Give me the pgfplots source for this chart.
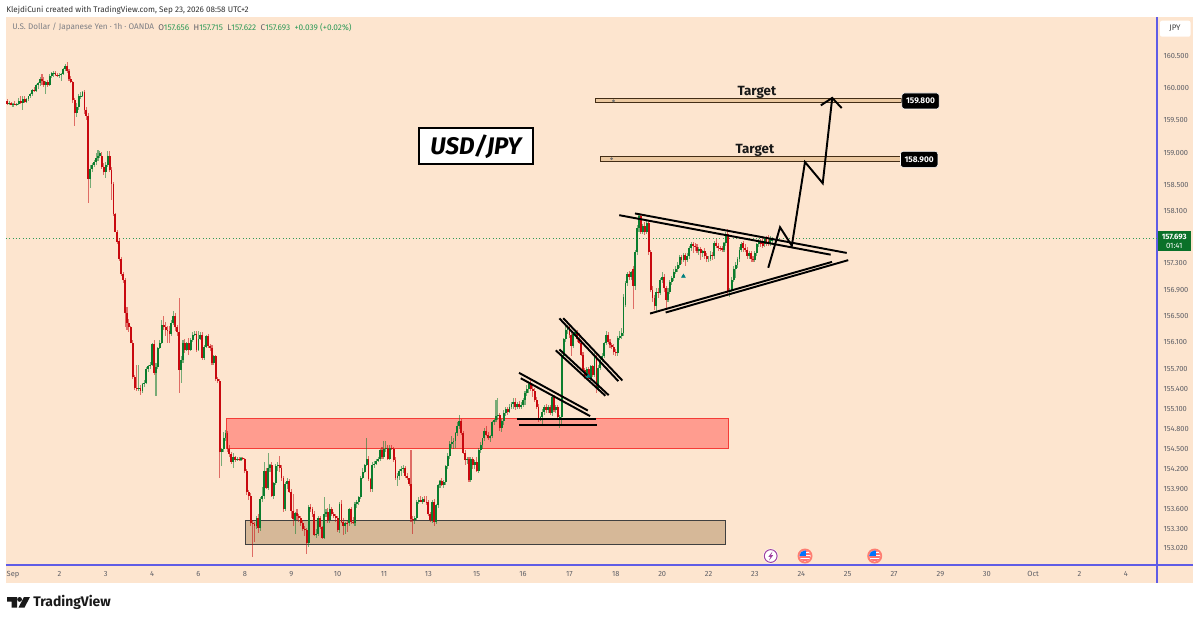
\documentclass[border=0pt]{standalone}
\usepackage{pgfplots}
\usepackage{pgfplotstable}
\usepackage{fontspec}
\setmainfont{Fira Sans}
\pgfplotsset{compat=1.18}
\definecolor{bg}{HTML}{FDE5CF}
\definecolor{upb}{HTML}{0B7D2E}
\definecolor{dnb}{HTML}{C8090F}
\definecolor{axb}{HTML}{5F5CE6}
\definecolor{tl}{HTML}{5E5F66}
\definecolor{grn}{HTML}{2E9A58}
\pgfplotstableread{
i o h l c
-3 159.80 159.84 159.74 159.76
-2 159.76 159.80 159.74 159.77
-1 159.77 159.79 159.73 159.75
0 159.75 159.78 159.72 159.76
1 159.76 159.80 159.74 159.75
2 159.75 159.78 159.73 159.76
3 159.76 159.86 159.74 159.80
4 159.80 159.87 159.76 159.77
5 159.77 159.87 159.68 159.83
6 159.83 159.87 159.77 159.79
7 159.79 159.85 159.78 159.83
8 159.83 159.88 159.81 159.87
9 159.87 159.93 159.86 159.92
10 159.92 160.00 159.90 159.98
11 159.98 160.02 159.95 159.96
12 159.96 160.07 159.94 160.05
13 160.05 160.10 160.00 160.08
14 160.08 160.17 160.04 160.14
15 160.14 160.22 160.06 160.12
16 160.12 160.17 160.02 160.05
17 160.05 160.12 159.91 160.10
18 160.10 160.13 160.03 160.05
19 160.05 160.22 160.04 160.19
20 160.19 160.26 160.16 160.23
21 160.23 160.27 160.18 160.25
22 160.25 160.27 160.19 160.21
23 160.21 160.24 160.17 160.19
24 160.19 160.23 160.16 160.20
25 160.20 160.24 160.12 160.22
26 160.22 160.32 160.20 160.30
27 160.30 160.39 160.28 160.36
28 160.36 160.42 160.25 160.28
29 160.28 160.30 160.12 160.15
30 160.15 160.19 160.08 160.10
31 160.10 160.12 159.78 159.82
32 159.82 159.86 159.42 159.62
33 159.62 159.78 159.55 159.72
34 159.72 159.92 159.68 159.88
35 159.88 159.94 159.84 159.90
36 159.90 159.97 159.87 159.94
37 159.94 159.98 159.60 159.66
38 159.66 159.72 159.52 159.58
39 159.58 159.62 158.23 158.60
40 158.60 158.82 158.45 158.76
41 158.76 158.85 158.70 158.82
42 158.82 158.90 158.78 158.86
43 158.86 159.00 158.82 158.92
44 158.92 159.05 158.88 158.96
45 158.96 159.03 158.92 159.00
46 158.96 159.02 158.76 158.80
47 158.80 158.85 158.66 158.70
48 158.70 158.86 158.62 158.82
49 158.82 159.03 158.78 158.96
50 158.96 159.03 158.70 158.74
51 158.74 158.78 158.28 158.53
52 158.53 158.56 158.03 158.06
53 158.06 158.08 157.78 157.80
54 157.80 157.82 157.60 157.64
55 157.66 157.70 157.34 157.37
56 157.37 157.40 157.12 157.14
57 157.14 157.18 157.00 157.06
58 157.06 157.08 156.34 156.56
59 156.56 156.64 156.30 156.40
60 156.40 156.46 156.26 156.33
61 156.33 156.36 156.10 156.10
62 156.10 156.14 155.55 155.58
63 155.58 155.62 155.39 155.42
64 155.42 155.78 155.38 155.40
65 155.40 155.76 155.38 155.42
66 155.42 155.46 155.31 155.38
67 155.38 155.50 155.35 155.48
68 155.48 155.54 155.44 155.50
69 155.50 155.74 155.48 155.70
70 155.70 155.78 155.66 155.75
71 155.75 155.82 155.70 155.78
72 155.78 156.10 155.76 156.08
73 156.08 156.14 155.62 155.65
74 155.65 155.80 155.30 155.74
75 155.74 156.04 155.70 156.02
76 156.02 156.14 156.00 156.10
77 156.10 156.44 156.08 156.37
78 156.37 156.50 156.30 156.33
79 156.33 156.42 156.20 156.30
80 156.30 156.36 156.10 156.28
81 156.28 156.36 156.10 156.24
82 156.24 156.44 156.20 156.40
83 156.40 156.58 156.38 156.50
84 156.50 156.56 156.28 156.33
85 156.33 156.38 156.20 156.26
86 156.26 156.78 155.35 155.68
87 155.68 155.90 155.50 155.84
88 155.84 156.14 155.80 156.10
89 156.10 156.16 155.95 155.99
90 155.99 156.12 155.98 156.10
91 156.10 156.18 155.92 155.99
92 155.99 156.18 155.97 156.14
93 156.14 156.26 156.12 156.22
94 156.22 156.28 156.20 156.24
95 156.24 156.28 155.96 155.99
96 155.99 156.28 155.97 156.16
97 156.16 156.26 156.14 156.22
98 156.22 156.26 155.84 155.87
99 155.87 156.06 155.85 156.04
100 156.04 156.22 156.02 156.20
101 156.20 156.24 156.02 156.05
102 156.05 156.08 155.98 156.03
103 156.03 156.06 155.78 155.80
104 155.80 155.92 155.78 155.90
105 155.90 155.92 155.52 155.55
106 155.55 155.58 155.50 155.52
107 155.52 155.55 154.07 154.46
108 154.46 154.52 154.24 154.50
109 154.50 154.76 154.46 154.68
110 154.68 154.79 154.62 154.74
111 154.74 154.78 154.46 154.50
112 154.50 154.55 154.38 154.42
113 154.42 154.46 154.27 154.30
114 154.30 154.44 154.22 154.38
115 154.38 154.40 154.30 154.34
116 154.34 154.38 154.32 154.36
117 154.36 154.38 154.32 154.34
118 154.34 154.38 154.33 154.37
119 154.37 154.39 154.33 154.35
120 154.35 154.37 154.15 154.18
121 154.18 154.20 153.82 153.85
122 153.85 153.88 153.74 153.80
123 153.80 153.84 153.36 153.40
124 153.40 153.44 152.88 153.38
125 153.38 153.42 153.12 153.35
126 153.35 153.50 153.30 153.46
127 153.46 153.52 153.25 153.32
128 153.32 153.78 153.28 153.75
129 153.75 153.93 153.70 153.80
130 153.80 154.31 153.76 154.17
131 154.17 154.22 153.90 153.92
132 153.92 154.44 153.88 154.22
133 154.22 154.28 154.16 154.26
134 154.26 154.30 153.78 153.80
135 153.80 154.00 153.76 153.99
136 153.99 154.27 153.96 154.24
137 154.24 154.30 154.18 154.26
138 154.26 154.40 154.16 154.22
139 154.22 154.26 154.02 154.06
140 154.06 154.10 153.56 153.60
141 153.60 154.00 153.58 153.98
142 153.98 154.06 153.90 154.02
143 154.02 154.05 153.84 153.86
144 153.86 153.90 153.46 153.58
145 153.58 153.83 153.36 153.45
146 153.44 153.56 153.23 153.55
147 153.55 153.60 153.44 153.50
148 153.50 153.54 153.42 153.46
149 153.46 153.50 153.36 153.40
150 153.40 153.44 153.28 153.31
151 153.31 153.36 153.20 153.29
152 153.29 153.32 152.94 153.09
153 153.09 153.66 153.04 153.63
154 153.63 153.68 153.56 153.60
155 153.60 153.64 153.48 153.54
156 153.54 153.58 153.20 153.22
157 153.22 153.30 153.18 153.24
158 153.24 153.50 153.20 153.46
159 153.46 153.50 153.30 153.33
160 153.33 153.36 153.16 153.18
161 153.18 153.78 153.15 153.52
162 153.52 153.60 153.48 153.56
163 153.56 153.62 153.40 153.44
164 153.44 153.68 153.40 153.60
165 153.60 153.64 153.50 153.52
166 153.52 153.56 153.46 153.50
167 153.50 153.54 153.42 153.46
168 153.46 153.50 153.26 153.29
169 153.29 153.70 153.25 153.69
170 153.69 153.74 153.40 153.41
171 153.41 153.46 153.22 153.36
172 153.36 153.42 153.24 153.40
173 153.40 153.43 153.26 153.39
174 153.39 153.62 153.35 153.60
175 153.60 153.64 153.38 153.42
176 153.42 153.48 153.38 153.40
177 153.40 153.72 153.34 153.69
178 153.69 153.74 153.62 153.70
179 153.70 153.80 153.66 153.78
180 153.78 154.09 153.76 154.07
181 154.07 154.22 154.05 154.16
182 154.16 154.28 154.14 154.26
183 154.26 154.68 154.24 154.35
184 154.35 154.40 154.02 154.05
185 154.05 154.08 153.86 153.90
186 153.90 154.30 153.86 154.26
187 154.26 154.32 154.22 154.29
188 154.29 154.36 154.26 154.32
189 154.32 154.38 154.30 154.36
190 154.36 154.50 154.32 154.48
191 154.48 154.54 154.36 154.38
192 154.38 154.62 154.36 154.50
193 154.50 154.62 154.46 154.52
194 154.52 154.56 154.33 154.36
195 154.36 154.55 154.34 154.52
196 154.52 154.56 154.48 154.50
197 154.50 154.53 154.30 154.34
198 154.34 154.38 154.04 154.06
199 154.06 154.14 153.94 154.10
200 154.10 154.20 154.04 154.18
201 154.18 154.24 154.10 154.20
202 154.20 154.26 154.14 154.22
203 154.22 154.24 154.08 154.10
204 154.10 154.14 154.04 154.06
205 154.06 154.08 153.94 153.98
206 153.98 154.48 153.42 153.45
207 153.45 153.50 153.24 153.44
208 153.44 153.50 153.38 153.47
209 153.47 153.74 153.44 153.72
210 153.72 153.78 153.68 153.74
211 153.74 153.80 153.70 153.72
212 153.72 153.78 153.68 153.75
213 153.75 153.80 153.70 153.72
214 153.72 153.80 153.66 153.70
215 153.70 153.74 153.50 153.52
216 153.52 153.56 153.42 153.44
217 153.44 153.74 153.40 153.70
218 153.72 153.76 153.36 153.42
219 153.42 153.68 153.38 153.66
220 153.66 153.98 153.62 153.96
221 153.96 154.04 153.92 154.02
222 154.02 154.06 153.94 153.96
223 153.96 154.04 153.92 154.00
224 154.00 154.26 153.96 154.24
225 154.24 154.44 154.20 154.40
226 154.40 154.62 154.36 154.58
227 154.58 154.70 154.52 154.60
228 154.60 154.66 154.50 154.62
229 154.62 154.76 154.52 154.74
230 154.74 154.90 154.70 154.85
231 154.85 155.01 154.80 154.92
232 154.92 154.96 154.72 154.74
233 154.74 154.78 154.42 154.44
234 154.44 154.48 154.26 154.34
235 154.34 154.38 154.28 154.35
236 154.35 154.38 154.00 154.04
237 154.04 154.38 154.00 154.36
238 154.36 154.38 154.20 154.26
239 154.26 154.34 154.20 154.30
240 154.30 154.38 154.16 154.18
241 154.18 154.52 154.14 154.48
242 154.48 154.60 154.44 154.56
243 154.56 154.68 154.50 154.66
244 154.66 154.82 154.62 154.78
245 154.78 154.84 154.70 154.72
246 154.72 154.76 154.64 154.66
247 154.66 154.72 154.60 154.70
248 154.70 154.92 154.66 154.90
249 154.90 154.96 154.86 154.94
250 154.94 155.24 154.90 155.00
251 155.00 155.26 154.94 155.02
252 155.02 155.04 154.78 154.82
253 154.82 154.96 154.76 154.92
254 154.92 155.08 154.86 155.04
255 155.04 155.14 155.00 155.10
256 155.10 155.14 155.02 155.06
257 155.06 155.18 155.04 155.14
258 155.14 155.20 155.10 155.18
259 155.18 155.26 155.10 155.20
260 155.20 155.26 155.08 155.12
261 155.12 155.20 155.10 155.18
262 155.18 155.22 155.10 155.14
263 155.14 155.20 155.10 155.16
264 155.16 155.26 155.12 155.24
265 155.24 155.36 155.16 155.34
266 155.34 155.46 155.30 155.40
267 155.40 155.52 155.34 155.48
268 155.48 155.54 155.36 155.40
269 155.40 155.46 155.28 155.38
270 155.38 155.42 155.20 155.24
271 155.24 155.28 155.10 155.14
272 155.14 155.18 154.90 154.96
273 154.96 155.00 154.92 154.97
274 154.97 155.10 154.86 155.06
275 155.06 155.16 155.02 155.12
276 155.12 155.18 155.04 155.08
277 155.08 155.16 155.04 155.12
278 155.12 155.16 155.02 155.04
279 155.04 155.30 155.00 155.28
280 155.28 155.32 155.06 155.08
281 155.08 155.16 155.04 155.12
282 155.12 155.16 154.94 154.97
283 154.97 155.02 154.82 154.98
284 154.98 155.94 154.84 155.90
285 155.90 156.18 155.86 156.16
286 156.16 156.36 156.12 156.30
287 156.30 156.38 156.24 156.34
288 156.34 156.36 156.18 156.22
289 156.22 156.30 155.90 156.05
290 156.05 156.26 156.02 156.24
291 156.24 156.30 156.20 156.27
292 156.27 156.30 156.12 156.16
293 156.16 156.25 156.08 156.10
294 156.10 156.14 155.90 155.92
295 155.92 155.96 155.66 155.69
296 155.69 155.72 155.56 155.60
297 155.60 155.74 155.56 155.70
298 155.70 155.74 155.52 155.55
299 155.55 155.78 155.50 155.75
300 155.75 155.78 155.58 155.62
301 155.62 155.94 155.58 155.90
302 155.90 155.96 155.35 155.42
303 155.42 155.76 155.38 155.72
304 155.72 155.88 155.68 155.85
305 155.85 155.94 155.82 155.90
306 155.90 156.12 155.86 156.10
307 156.10 156.28 156.06 156.22
308 156.22 156.26 156.08 156.12
309 156.12 156.16 156.02 156.06
310 156.06 156.10 156.00 156.04
311 156.04 156.08 155.92 155.96
312 155.96 156.00 155.90 155.94
313 155.94 156.20 155.90 156.18
314 156.18 156.28 156.14 156.20
315 156.20 156.32 156.16 156.25
316 156.25 156.84 156.20 156.80
317 156.68 157.04 156.64 157.00
318 157.00 157.18 156.96 157.14
319 157.14 157.20 157.06 157.10
320 157.10 157.20 157.06 157.17
321 157.22 157.26 156.62 156.96
322 156.96 157.52 156.90 157.48
323 157.48 157.90 157.44 157.85
324 157.85 158.09 157.80 158.03
325 158.03 158.06 157.76 157.80
326 157.80 157.92 157.76 157.88
327 157.88 157.94 157.74 157.80
328 157.80 157.98 157.76 157.93
329 157.93 157.96 157.44 157.48
330 157.48 157.52 156.86 156.90
331 156.90 156.96 156.72 156.78
332 156.78 156.82 156.60 156.66
333 156.66 156.92 156.58 156.88
334 156.88 156.92 156.78 156.85
335 156.85 157.08 156.82 157.05
336 157.05 157.18 157.00 157.10
337 157.10 157.14 156.88 156.92
338 156.92 156.96 156.60 156.75
339 156.75 156.92 156.72 156.88
340 156.88 157.06 156.84 157.02
341 157.02 157.12 156.98 157.08
342 157.08 157.22 157.04 157.18
343 157.18 157.26 157.14 157.22
344 157.22 157.32 157.18 157.28
345 157.28 157.44 157.24 157.40
346 157.40 157.44 157.30 157.36
347 157.36 157.46 157.32 157.43
348 157.43 157.46 157.26 157.36
349 157.36 157.46 157.32 157.42
350 157.42 157.58 157.38 157.55
351 157.55 157.64 157.50 157.60
352 157.60 157.64 157.46 157.58
353 157.58 157.62 157.50 157.56
354 157.56 157.60 157.46 157.50
355 157.50 157.56 157.44 157.53
356 157.53 157.56 157.36 157.46
357 157.46 157.52 157.40 157.50
358 157.50 157.54 157.38 157.42
359 157.42 157.46 157.32 157.37
360 157.37 157.42 157.32 157.38
361 157.38 157.50 157.34 157.45
362 157.45 157.48 157.36 157.42
363 157.42 157.66 157.38 157.62
364 157.62 157.68 157.54 157.58
365 157.58 157.62 157.50 157.55
366 157.55 157.58 157.50 157.54
367 157.54 157.58 157.48 157.52
368 157.52 157.64 157.48 157.62
369 157.62 157.80 157.58 157.76
370 157.76 157.84 156.84 156.86
371 156.86 156.92 156.80 156.90
372 156.90 157.10 156.86 157.06
373 157.06 157.26 157.02 157.22
374 157.22 157.32 157.08 157.28
375 157.28 157.40 157.24 157.37
376 157.37 157.56 157.32 157.52
377 157.52 157.64 157.48 157.60
378 157.62 157.66 157.48 157.55
379 157.55 157.60 157.48 157.52
380 157.52 157.56 157.38 157.42
381 157.42 157.50 157.38 157.46
382 157.46 157.50 157.32 157.38
383 157.38 157.42 157.32 157.36
384 157.36 157.50 157.32 157.46
385 157.46 157.62 157.42 157.60
386 157.60 157.68 157.56 157.64
387 157.64 157.68 157.56 157.60
388 157.66 157.70 157.54 157.58
389 157.60 157.70 157.56 157.68
390 157.68 157.72 157.58 157.63
391 157.66 157.74 157.58 157.60
392 157.62 157.72 157.58 157.68
393 157.656 157.715 157.622 157.693
}\candles
\begin{document}
\begin{tikzpicture}
\begin{scope}[x=.75pt,y=-.75pt]
\path[use as bounding box] (0,0) rectangle (1200,622);
\fill[white] (0,0) rectangle (1200,622);
\fill[bg] (6,17) rectangle (1193,583);
\node[anchor=west,inner sep=0,text=black!80,font=\fontsize{6.1pt}{8pt}\selectfont] at (6,10) {KlejdiCuni created with TradingView.com, Sep 23, 2026 08:58 UTC+2};
\node[anchor=west,inner sep=0,text=tl!80,font=\fontsize{6.1pt}{8pt}\selectfont] at (12,27.5) {U.S. Dollar / Japanese Yen · 1h · OANDA};
\node[anchor=west,inner sep=0,font=\fontsize{6.2pt}{8pt}\selectfont] at (158,27.5) {\textcolor{tl}{O}\textcolor{grn}{157.656}\ \ \textcolor{tl}{H}\textcolor{grn}{157.715}\ \ \textcolor{tl}{L}\textcolor{grn}{157.622}\ \ \textcolor{tl}{C}\textcolor{grn}{157.693}\ \ \textcolor{grn}{+0.039 (+0.02\%)}};
\fill[white,rounded corners=1.5pt] (1160,20.7) rectangle (1190.5,36.7);
\node[text=black!75,inner sep=0,font=\fontsize{6pt}{7pt}\selectfont] at (1175,28.7) {JPY};
\fill[black!90] (7,597) -- (17,597) -- (17,607.5) -- (11.5,607.5) -- (11.5,601.5) -- (7,601.5) -- cycle;
\fill[black!90] (19.6,599.4) circle[radius=2.4];
\fill[black!90] (24,597) -- (30,597) -- (24.5,607.5) -- (18.5,607.5) -- cycle;
\node[anchor=west,inner sep=0,text=black!90,font=\fontsize{10.4pt}{13pt}\selectfont\bfseries] at (33,602.5) {TradingView};
\end{scope}
\begin{axis}[
 at={(4.5pt,-423.75pt)},anchor=south west,
 scale only axis,width=863.25pt,height=411pt,
 clip=false,
 y coord trafo/.code={\pgfmathparse{100*ln(#1)}},
 y coord inv trafo/.code={\pgfmathparse{exp(#1/100)}},
 xmin=-3.62,xmax=592.1,ymin=152.767,ymax=161.108,
 axis x line=bottom,axis y line=right,
 axis line style={axb,line width=.9pt,-},
 major tick length=0pt,minor tick num=0,
 xtick={0,24,48,72,96,120,144,168,192,215,240,264,288,312,336,360,384,408,432,456,480,504,528,552,576},
 xticklabels={Sep,2,3,4,6,8,9,10,11,13,15,16,17,18,20,22,23,24,25,27,29,30,Oct,2,4},
 ytick={160.5,160,159.5,159,158.5,158.1,157.3,156.9,156.5,156.1,155.7,155.4,155.1,154.8,154.5,154.2,153.9,153.6,153.3,153.02},
 yticklabels={160.500,160.000,159.500,159.000,158.500,158.100,157.300,156.900,156.500,156.100,155.700,155.400,155.100,154.800,154.500,154.200,153.900,153.600,153.300,153.020},
 tick label style={font=\fontsize{5.6pt}{6pt}\selectfont,text=tl},
 xticklabel style={yshift=-1.2pt},
 yticklabel style={xshift=1.4pt},
]
% zones
\addplot[fill={rgb,255:red,255;green,156;blue,143},draw={rgb,255:red,244;green,60;blue,55},line width=.6pt,forget plot] coordinates {(110.5,154.96)(370.3,154.96)(370.3,154.51)(110.5,154.51)} --cycle;
\addplot[fill={rgb,255:red,214;green,184;blue,152},draw=black!75,line width=.8pt,forget plot] coordinates {(120.1,153.44)(369,153.44)(369,153.08)(120.1,153.08)} --cycle;
\addplot[fill={rgb,255:red,235;green,200;blue,160},draw=black!65!brown,line width=.55pt,forget plot] coordinates {(301.2,159.855)(459.6,159.855)(459.6,159.775)(301.2,159.775)} --cycle;
\addplot[fill={rgb,255:red,235;green,200;blue,160},draw=black!65!brown,line width=.55pt,forget plot] coordinates {(304.1,158.95)(460,158.95)(460,158.875)(304.1,158.875)} --cycle;
% last price line
\addplot[grn,dotted,line width=.5pt,forget plot] coordinates {(-3.62,157.693)(592.1,157.693)};
% wicks
\addplot[draw=none,mark=none,forget plot,error bars/.cd,y dir=both,y explicit,error mark=none,error bar style={color=upb,opacity=.55,line width=.8pt}] table[x expr={\thisrow{c}>=\thisrow{o}?\thisrow{i}:nan},y=o,y error plus expr=100*ln(\thisrow{h})-100*ln(\thisrow{o}),y error minus expr=100*ln(\thisrow{o})-100*ln(\thisrow{l})] {\candles};
\addplot[draw=none,mark=none,forget plot,error bars/.cd,y dir=both,y explicit,error mark=none,error bar style={color=dnb,opacity=.55,line width=.8pt}] table[x expr={\thisrow{c}<\thisrow{o}?\thisrow{i}:nan},y=o,y error plus expr=100*ln(\thisrow{h})-100*ln(\thisrow{o}),y error minus expr=100*ln(\thisrow{o})-100*ln(\thisrow{l})] {\candles};
% bodies
\addplot[draw=none,mark=none,forget plot,error bars/.cd,y dir=minus,y explicit,error mark=none,error bar style={color=upb,line width=1.4pt}] table[x expr={\thisrow{c}>=\thisrow{o}?\thisrow{i}:nan},y=c,y error minus expr=100*ln(\thisrow{c})-100*ln(\thisrow{o})] {\candles};
\addplot[draw=none,mark=none,forget plot,error bars/.cd,y dir=plus,y explicit,error mark=none,error bar style={color=dnb,line width=1.4pt}] table[x expr={\thisrow{c}<\thisrow{o}?\thisrow{i}:nan},y=c,y error plus expr=100*ln(\thisrow{o})-100*ln(\thisrow{c})] {\candles};
% trend lines
\pgfplotsset{tr/.style={black,line width=1.45pt,forget plot}}
\addplot[tr] coordinates {(284.8,156.477)(315.4,155.535)};
\addplot[tr] coordinates {(282.8,156.466)(313.3,155.52)};
\addplot[tr] coordinates {(282.8,156.0)(308.3,155.31)};
\addplot[tr] coordinates {(280.9,155.99)(306.6,155.30)};
\addplot[tr] coordinates {(261.9,155.646)(297.5,155.075)};
\addplot[tr] coordinates {(262.8,155.57)(298.7,154.995)};
\addplot[tr] coordinates {(260.9,154.95)(301.6,154.95)};
\addplot[tr] coordinates {(261.9,154.865)(302.4,154.865)};
\addplot[tr] coordinates {(321.9,158.066)(431.5,157.465)};
\addplot[tr] coordinates {(313.8,158.05)(423.2,157.445)};
\addplot[tr] coordinates {(329.7,156.543)(423.9,157.334)};
\addplot[tr] coordinates {(337.8,156.563)(432.3,157.354)};
\addplot[tr] coordinates {(390.9,157.242)(397,157.865)(403.1,157.573)(409.9,158.86)(419.1,158.54)(424,159.864)};
\addplot[tr] coordinates {(418.1,159.735)(424,159.864)(428.9,159.694)};
% small marks
\addplot[only marks,mark=triangle*,mark size=1.6pt,color=teal,forget plot] coordinates {(297.8,155.6)(347,157.11)};
\addplot[only marks,mark=*,mark size=.8pt,color=black!55,forget plot] coordinates {(310.8,159.815)(309.8,158.912)};
% labels
\node[font=\bfseries\fontsize{10pt}{11pt}\selectfont,text=black!90,inner sep=0] at (axis cs:385,159.935) {Target};
\node[font=\bfseries\fontsize{10pt}{11pt}\selectfont,text=black!90,inner sep=0] at (axis cs:384,159.03) {Target};
\node[draw=black,line width=1.5pt,fill=white,minimum width=85.5pt,minimum height=27pt,inner sep=0,font=\bfseries\itshape\fontsize{18pt}{20pt}\selectfont] at (axis cs:239.6,159.10) {USD/JPY};
\node[fill=black,text=white,draw=white,line width=.4pt,rounded corners=2pt,minimum width=28pt,minimum height=12pt,inner sep=0,font=\fontsize{6.2pt}{6.4pt}\selectfont\bfseries] at (axis cs:469.7,159.8) {159.800};
\node[fill=black,text=white,draw=white,line width=.4pt,rounded corners=2pt,minimum width=28pt,minimum height=12pt,inner sep=0,font=\fontsize{6.2pt}{6.4pt}\selectfont\bfseries] at (axis cs:469,158.9) {158.900};
\node[fill=upb!90!black,minimum width=24.5pt,minimum height=14.8pt,inner sep=0,text=white,align=center,font=\fontsize{5.8pt}{6.8pt}\selectfont] at (axis cs:601,157.646) {\textbf{157.693}\\01:41};
\end{axis}
\begin{scope}[x=.75pt,y=-.75pt]
% axis line extensions
\draw[axb,line width=.9pt] (1157,565) -- (1157,583);
\draw[axb,line width=.9pt] (1157,565) -- (1193,565);
% event icons
\fill[white] (770.7,556) circle[radius=7.5];
\draw[violet!75,line width=.75pt] (770.7,556) circle[radius=6.4];
\fill[violet!75] (772.5,551.5) -- (768.3,556.8) -- (770.6,556.8) -- (769,560.5) -- (773.2,555.2) -- (770.9,555.2) -- cycle;
\foreach \fx in {805,874.7}{
 \fill[red!45!bg] (\fx,556) circle[radius=7.5];
 \fill[white] (\fx,556) circle[radius=5.6];
 \begin{scope}
 \clip (\fx,556) circle[radius=5.6];
 \fill[red!55] (\fx-6,556.4) rectangle (\fx+6,557.9);
 \fill[red!55] (\fx-6,559.4) rectangle (\fx+6,561);
 \fill[red!55] (\fx,550) rectangle (\fx+6,551.8);
 \fill[red!55] (\fx,553) rectangle (\fx+6,554.8);
 \fill[blue!55!cyan] (\fx-6,550) rectangle (\fx+1.2,556.2);
 \end{scope}
}
\end{scope}
\end{tikzpicture}
\end{document}
